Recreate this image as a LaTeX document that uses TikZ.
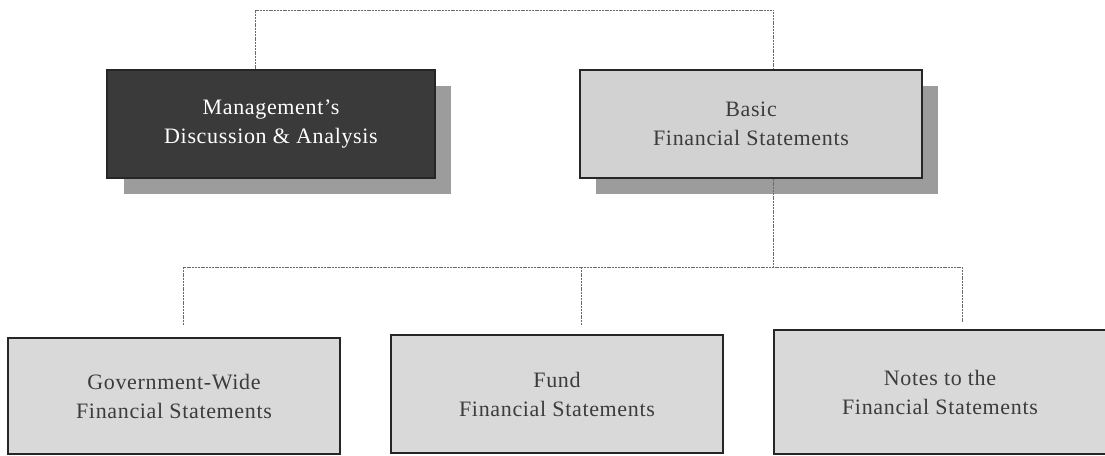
\documentclass[tikz,border=0pt]{standalone}
\usepackage{fontspec}
\setmainfont{Liberation Serif}[LetterSpace=3]
\definecolor{darkfill}{HTML}{3A3A3A}
\definecolor{lightfill}{HTML}{D2D2D2}
\definecolor{botfill}{HTML}{D9D9D9}
\definecolor{shadowgray}{HTML}{9C9C9C}
\definecolor{txtgray}{HTML}{3C3C3C}
\definecolor{linegray}{HTML}{6A6A6A}
\begin{document}
\begin{tikzpicture}[x=1pt,y=-1pt,
  boxstyle/.style={draw=black!85, line width=1.4pt, rectangle, inner sep=0pt, align=center,
     font=\fontsize{22}{29}\selectfont},
  topbox/.style={boxstyle, minimum width=328pt, minimum height=108pt},
  botbox/.style={boxstyle, fill=botfill, text=txtgray, minimum width=332pt, minimum height=116pt},
  conn/.style={draw=linegray, line width=0.8pt, dash pattern=on 2pt off 0.8pt}]
\useasboundingbox (0,0) rectangle (1105,455);
% shadows
\fill[shadowgray] (124,86) rectangle (451,194);
\fill[shadowgray] (596,86) rectangle (938,194);
% top boxes
\node[topbox, fill=darkfill, text=white] (mda) at (271,124) {Management's\\Discussion \& Analysis};
\node[topbox, fill=lightfill, text=txtgray, minimum width=342pt] (bfs) at (751,124) {Basic\\Financial Statements};
% bottom boxes
\node[botbox] (gov) at (174,396) {Government-Wide\\Financial Statements};
\node[botbox, minimum height=118pt] (fund) at (557,394) {Fund\\Financial Statements};
\node[botbox, minimum height=124pt] (notes) at (940,392) {Notes to the\\Financial Statements};
% coordinates
\coordinate (t1) at (255,10);
\coordinate (t2) at (773,10);
\coordinate (hb) at (773,267);
\coordinate (h1) at (183,267);
\coordinate (h3) at (962,267);
\coordinate (d1) at (183,325);
\coordinate (d2) at (581,325);
\coordinate (d3) at (962,323);
\coordinate (h2) at (581,267);
% connectors
\draw[conn] (mda.north -| t1) -- (t1) -- (t2) -- (bfs.north -| t2);
\draw[conn] (bfs.south -| hb) -- (hb);
\draw[conn] (d1) -- (h1) -- (h3) -- (d3);
\draw[conn] (h2) -- (d2);
\end{tikzpicture}
\end{document}
